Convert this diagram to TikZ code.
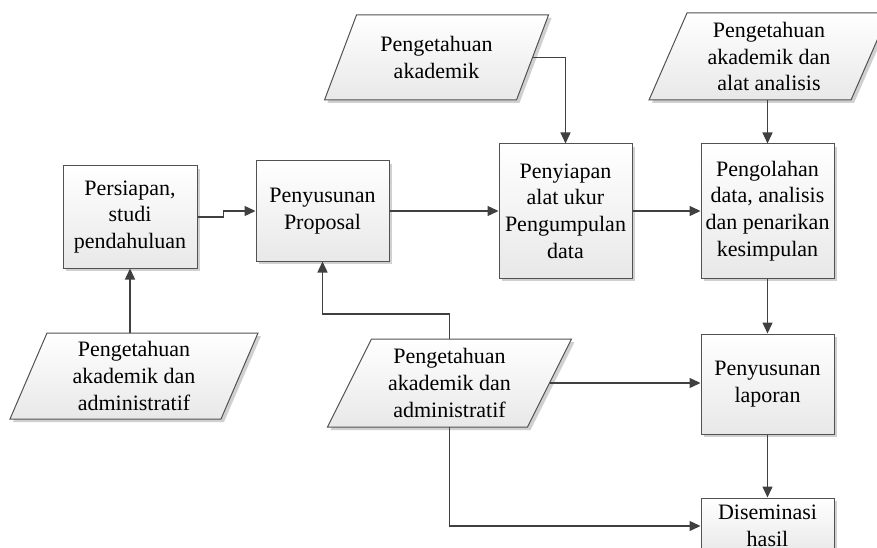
\documentclass[tikz,border=0pt]{standalone}
\usepackage{fontspec}
\setmainfont{Liberation Serif}
\usetikzlibrary{arrows.meta,calc,shadows}
\newcommand\myfont{\fontsize{22}{26.6}\selectfont}
\tikzset{
  boxcol/.style={draw=black!68, line width=1pt, top color=white, bottom color=black!9},
  procbox/.style={boxcol, minimum width=133pt, inner sep=0pt, align=center, font=\myfont,
    drop shadow={shadow xshift=3pt, shadow yshift=-3pt, fill=black!30, opacity=0.6}},
  shadowcol/.style={fill=black!30, opacity=0.6},
  conn/.style={draw=black!75, line width=1.4pt, -{Triangle[length=11pt,width=10pt]}},
  paratext/.style={inner sep=0pt, align=center, font=\myfont}
}
% name, cx, cy, w, h, slant, text
\newcommand\mypara[7]{%
  \fill[shadowcol] ({#2-#4/2-#6/2+3},{#3+#5/2+3}) -- ({#2+#4/2-#6/2+3},{#3+#5/2+3}) -- ({#2+#4/2+#6/2+3},{#3-#5/2+3}) -- ({#2-#4/2+#6/2+3},{#3-#5/2+3}) -- cycle;
  \path[boxcol] ({#2-#4/2-#6/2},{#3+#5/2}) -- ({#2+#4/2-#6/2},{#3+#5/2}) -- ({#2+#4/2+#6/2},{#3-#5/2}) -- ({#2-#4/2+#6/2},{#3-#5/2}) -- cycle;
  \node[paratext, minimum width=#4pt, minimum height=#5pt] (#1) at (#2,#3) {#7};
}
\begin{document}
\begin{tikzpicture}[x=1pt,y=-1pt]
\useasboundingbox (0,0) rectangle (877,548);
\fill[white] (0,0) rectangle (877,548);
\clip (0,0) rectangle (877,548);

% process boxes
\node[procbox, minimum width=134pt, minimum height=102pt] (b1) at (130,217) {Persiapan,\\studi\\pendahuluan};
\node[procbox, minimum height=100pt] (b2) at (322.5,211) {Penyusunan\\Proposal};
\node[procbox, minimum height=134pt] (b3) at (565.5,211) {Penyiapan\\alat ukur\\Pengumpulan\\data};
\node[procbox, minimum height=134pt] (b4) at (767.5,211) {Pengolahan\\data, analisis\\dan penarikan\\kesimpulan};
\node[procbox, minimum height=100pt] (b5) at (767.5,384) {Penyusunan\\laporan};
\node[procbox, minimum height=56pt] (b6) at (767.5,526) {Diseminasi\\hasil};

% data (parallelograms)
\mypara{p2}{436.5}{57.5}{192}{85}{32}{Pengetahuan\\akademik}
\mypara{p3}{769}{56.5}{202}{87}{38}{Pengetahuan\\akademik dan\\alat analisis}
\mypara{p1}{134}{376}{211}{86}{37}{Pengetahuan\\akademik dan\\administratif}
\mypara{pm}{449.5}{383}{200}{88}{44}{Pengetahuan\\akademik dan\\administratif}

% connectors
\coordinate (s12) at ($(b1.east)!0.45!(b2.west)$);
\draw[conn] (b1.east) -| (s12) |- (b2.west);
\draw[conn] (b2.east) -- (b3.west);
\draw[conn] (b3.east) -- (b4.west);
\draw[conn] (p2.east) -| (b3.north);
\draw[conn] (b4.north |- p3.south) -- (b4.north);
\draw[conn] (b4.south) -- (b5.north);
\draw[conn] (b5.south) -- (b6.north);
\draw[conn] (b1.south |- p1.north) -- (b1.south);
\coordinate (j1) at (322.5,314);
\draw[conn] (pm.north) |- (j1) -- (b2.south);
\draw[conn] (pm.east) -- (b5.west |- pm.east);
\draw[conn] (pm.south) |- (b6.west);
\end{tikzpicture}
\end{document}
